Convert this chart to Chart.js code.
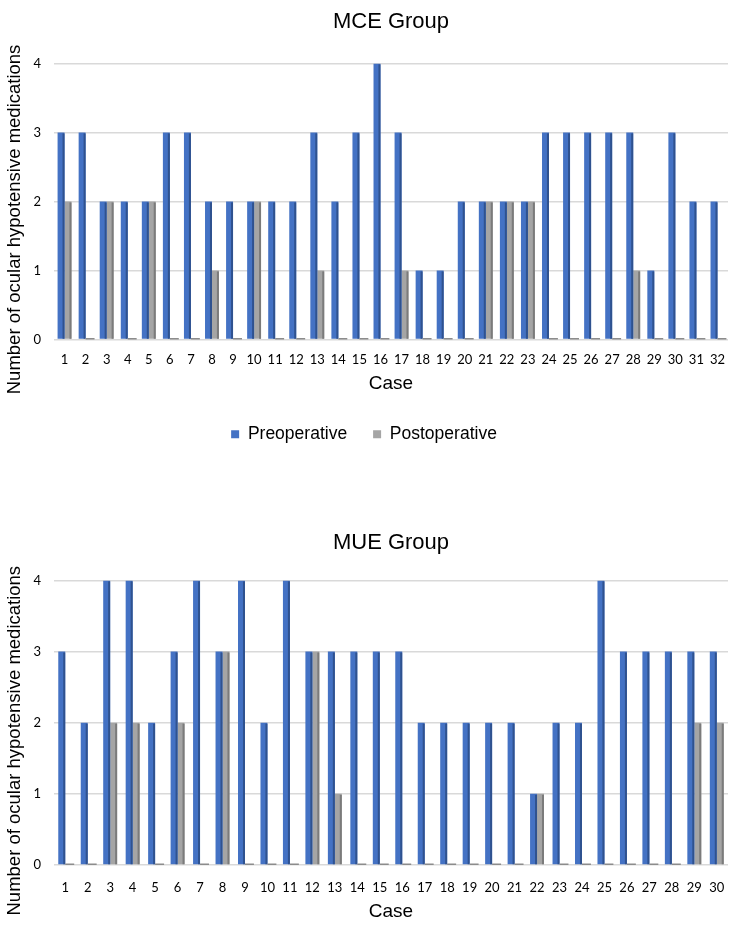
<!DOCTYPE html>
<html>
<head>
<meta charset="utf-8">
<script src="https://cdn.jsdelivr.net/npm/chart.js@4"></script>
<style>
  body { margin: 0; background: #fff; }
  .box { position: absolute; left: 0; width: 750px; }
</style>
</head>
<body>
<div class="box" style="top:0;height:470px"><canvas id="mceChart"></canvas></div>
<div class="box" style="top:470px;height:466px"><canvas id="mueChart"></canvas></div>
<script>
// datos
const mceCases = ['1','2','3','4','5','6','7','8','9','10','11','12','13','14','15','16','17','18','19','20','21','22','23','24','25','26','27','28','29','30','31','32'];
const mcePre  = [3,3,2,2,2,3,3,2,2,2,2,2,3,2,3,4,3,1,1,2,2,2,2,3,3,3,3,3,1,3,2,2];
const mcePost = [2,0,2,0,2,0,0,1,0,2,0,0,1,0,0,0,1,0,0,0,2,2,2,0,0,0,0,1,0,0,0,0];

const mueCases = ['1','2','3','4','5','6','7','8','9','10','11','12','13','14','15','16','17','18','19','20','21','22','23','24','25','26','27','28','29','30'];
const muePre  = [3,2,4,4,2,3,4,3,4,2,4,3,3,3,3,3,2,2,2,2,2,1,2,2,4,3,3,3,3,3];
const muePost = [0,0,2,2,0,2,0,3,0,0,0,3,1,0,0,0,0,0,0,0,0,1,0,0,0,0,0,0,2,2];

const yTicks = [0, 1, 2, 3, 4];

const AXIS_TITLE = 'Number of ocular hypotensive medications';
const SANS = "'Liberation Sans', Arial, sans-serif";
const BLUE = '#4472C4', BLUE_SIDE = '#2F528F';
const GRAY = '#A5A5A5', GRAY_SIDE = '#7B7B7B';

// efecto 3D sencillo: cara lateral oscura y base para valores cero
const bar3d = {
  id: 'bar3d',
  afterDatasetsDraw(chart) {
    const ctx = chart.ctx;
    chart.data.datasets.forEach((ds, i) => {
      const meta = chart.getDatasetMeta(i);
      const side = i === 0 ? BLUE_SIDE : GRAY_SIDE;
      meta.data.forEach((bar, j) => {
        const p = bar.getProps(['x', 'y', 'base', 'width'], true);
        const right = p.x + p.width / 2;
        ctx.save();
        ctx.fillStyle = side;
        if (ds.data[j] === 0) {
          ctx.fillStyle = '#8c8c8c';
          ctx.fillRect(p.x - p.width / 2, p.base - 1.5, p.width + 2, 1.5);
        } else {
          ctx.fillRect(right - 2, p.y + 1, 2, p.base - p.y - 1);
        }
        ctx.restore();
      });
    });
  }
};

// titulo del eje Y, centrado un poco mas abajo como en Excel
const yTitle = {
  id: 'yTitle',
  afterDraw(chart) {
    const ctx = chart.ctx;
    const a = chart.chartArea;
    ctx.save();
    ctx.translate(15, (a.top + a.bottom) / 2 + 18);
    ctx.rotate(-Math.PI / 2);
    ctx.fillStyle = '#000';
    ctx.font = '18.5px ' + SANS;
    ctx.textAlign = 'center';
    ctx.textBaseline = 'middle';
    ctx.fillText(AXIS_TITLE, 0, 0);
    ctx.restore();
  }
};

function makeChart(id, cases, pre, post, opts) {
  const ctx = document.getElementById(id).getContext('2d');
  return new Chart(ctx, {
    type: 'bar',
    data: {
      labels: cases,
      datasets: [
        { label: 'Preoperative', data: pre, backgroundColor: BLUE,
          categoryPercentage: opts.catPct, barPercentage: 1 },
        { label: 'Postoperative', data: post, backgroundColor: GRAY,
          categoryPercentage: opts.catPct, barPercentage: 1 }
      ]
    },
    options: {
      responsive: true,
      maintainAspectRatio: false,
      animation: false,
      layout: { padding: { left: 0, right: 22, top: 0, bottom: opts.padBottom } },
      plugins: {
        tooltip: { enabled: false },
        title: {
          display: true,
          text: opts.title,
          color: '#000',
          fullSize: false,
          font: { family: SANS, size: 22, weight: 'normal' },
          padding: opts.titlePad
        },
        legend: {
          display: opts.legend,
          position: 'bottom',
          labels: {
            color: '#000',
            font: { family: SANS, size: 17.5 },
            boxWidth: 8,
            boxHeight: 8,
            padding: 26
          }
        }
      },
      scales: {
        x: {
          grid: { display: false },
          border: { display: false },
          ticks: {
            color: '#000',
            font: { family: 'Lato, sans-serif', size: 13 },
            padding: opts.tickPad,
            maxRotation: 0,
            autoSkip: false
          },
          title: {
            display: true,
            text: 'Case',
            color: '#000',
            font: { family: SANS, size: 19 },
            padding: { top: 0, bottom: opts.caseBottom }
          },
          afterFit(scale) { scale.height = opts.xHeight; }
        },
        y: {
          min: 0,
          max: 4,
          afterBuildTicks(scale) { scale.ticks = yTicks.map(v => ({ value: v })); },
          grid: { color: '#d9d9d9', lineWidth: 1.5, drawTicks: false },
          border: { display: false },
          ticks: {
            color: '#000',
            font: { family: 'Lato, sans-serif', size: 13 },
            padding: 13
          },
          afterFit(scale) { scale.width = 54; }
        }
      }
    },
    plugins: [bar3d, yTitle]
  });
}

makeChart('mceChart', mceCases, mcePre, mcePost, {
  title: 'MCE Group',
  titlePad: { top: 9, bottom: 28 },
  catPct: 0.66,
  legend: true,
  padBottom: 17,
  xHeight: 60,
  tickPad: 5,
  caseBottom: 4
});

makeChart('mueChart', mueCases, muePre, muePost, {
  title: 'MUE Group',
  titlePad: { top: 60, bottom: 24 },
  catPct: 0.62,
  legend: false,
  padBottom: 0,
  xHeight: 71,
  tickPad: 7,
  caseBottom: 13
});
</script>
</body>
</html>
